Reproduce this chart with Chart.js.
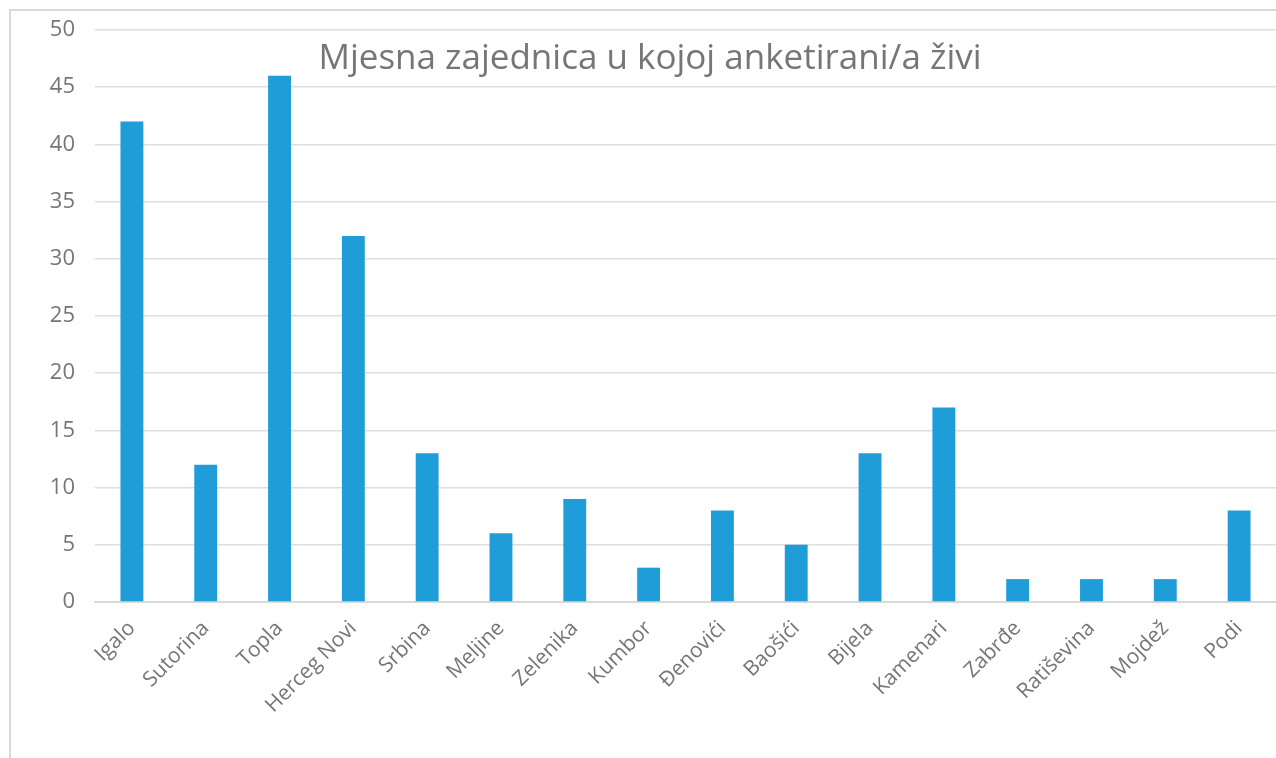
<!DOCTYPE html>
<html>
<head>
<meta charset="utf-8">
<script src="https://cdn.jsdelivr.net/npm/chart.js@4"></script>
<style>
    body { margin: 0; background: #fff; }
    #frame {
        position: absolute; left: 9px; top: 9px; width: 1267px; height: 749px;
        border-left: 2px solid #d9d9d9; border-top: 2px solid #d9d9d9;
    }
    #graficaMjesta { display: block; }
</style>
</head>
<body>
<div id="frame"><canvas id="graficaMjesta" width="1265" height="747"></canvas></div>
<script>
const mjesta = ['Igalo', 'Sutorina', 'Topla', 'Herceg Novi', 'Srbina', 'Meljine', 'Zelenika', 'Kumbor',
    'Đenovići', 'Baošići', 'Bijela', 'Kamenari', 'Zabrđe', 'Ratiševina', 'Mojdež', 'Podi'];
const brojAnketiranih = [42, 12, 46, 32, 13, 6, 9, 3, 8, 5, 13, 17, 2, 2, 2, 8];
const naslov = 'Mjesna zajednica u kojoj anketirani/a živi';

const sivaBoja = '#767676';

// naslov se crta unutar podrucja grafikona, kao u Excelu
const naslovPlugin = {
    id: 'naslovUnutra',
    afterDraw(chart) {
        const c = chart.ctx;
        c.save();
        c.font = '35px "Open Sans"';
        c.textAlign = 'center';
        c.textBaseline = 'middle';
        const x = 639, y = 48;
        const w = c.measureText(naslov).width;
        c.fillStyle = '#fff';
        c.fillRect(x - w / 2 - 6, y - 22, w + 12, 44);
        c.fillStyle = sivaBoja;
        c.fillText(naslov, x, y);
        c.restore();
    }
};

document.addEventListener('DOMContentLoaded', function () {
    const ctx = document.getElementById('graficaMjesta').getContext('2d');
    new Chart(ctx, {
        type: 'bar',
        data: {
            labels: mjesta,
            datasets: [{
                label: naslov,
                data: brojAnketiranih,
                backgroundColor: '#1f9dd9',
                categoryPercentage: 1,
                barPercentage: 0.31
            }]
        },
        options: {
            responsive: false,
            animation: false,
            layout: { padding: { top: 19, right: 0, left: 0, bottom: 0 } },
            plugins: {
                legend: { display: false },
                tooltip: { enabled: false }
            },
            scales: {
                y: {
                    min: 0,
                    max: 50,
                    ticks: {
                        stepSize: 5,
                        color: sivaBoja,
                        padding: 20,
                        font: { family: 'Open Sans', size: 22 }
                    },
                    grid: { color: '#dedede', lineWidth: 1.5, drawTicks: false },
                    border: { display: false },
                    afterFit: function (scale) {
                        scale.width = 84;
                        scale.paddingTop = 0;
                        scale.paddingBottom = 0;
                    }
                },
                x: {
                    ticks: {
                        color: sivaBoja,
                        minRotation: 45,
                        maxRotation: 45,
                        padding: 6,
                        font: { family: 'Open Sans', size: 21 }
                    },
                    grid: { display: false },
                    border: { color: '#d9d9d9', width: 2 },
                    afterFit: function (scale) {
                        scale.height = 156;
                        scale.paddingLeft = 0;
                        scale.paddingRight = 0;
                    }
                }
            }
        },
        plugins: [naslovPlugin]
    });
});
</script>
</body>
</html>
